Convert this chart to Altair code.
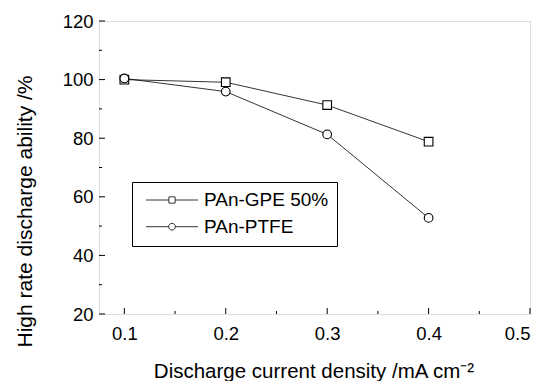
import altair as alt
import pandas as pd

# ---- data ----
density = [0.1, 0.2, 0.3, 0.4]
gpe = [100.0, 99.1, 91.3, 78.8]
ptfe = [100.4, 95.9, 81.3, 52.8]
series_names = ["PAn-GPE 50%", "PAn-PTFE"]

x_major = [0.1, 0.2, 0.3, 0.4, 0.5]
x_minor = [0.15, 0.25, 0.35, 0.45]
y_major = [20, 40, 60, 80, 100, 120]
y_minor = [30, 50, 70, 90, 110]

W, H = 431, 293
FONT = "Liberation Sans"

df = pd.DataFrame({
    "x": density * 2,
    "y": gpe + ptfe,
    "s": [series_names[0]] * 4 + [series_names[1]] * 4,
})

xscale = alt.Scale(domain=[0.075, 0.5], nice=False, zero=False)
yscale = alt.Scale(domain=[20, 120], nice=False, zero=False)

xaxis = alt.Axis(values=x_major, format=".1f", ticks=False, domain=False, grid=False,
                 labelFontSize=18.5, labelFont=FONT, labelColor="black",
                 labelBaseline="alphabetic", labelPadding=25, tickSize=0,
                 title="Discharge current density /mA cm\u207b\u00b2",
                 titleFontSize=20.5, titleFont=FONT, titleFontWeight="normal", titleColor="black",
                 titleBaseline="alphabetic", titleY=63, titleX=W / 2 - 1)
yaxis = alt.Axis(values=y_major, format="d", ticks=False, domain=False, grid=False,
                 labelFontSize=18.5, labelFont=FONT, labelColor="black",
                 labelPadding=6, tickSize=0,
                 title="High rate discharge ability /%",
                 titleFontSize=21, titleFont=FONT, titleFontWeight="normal", titleColor="black",
                 titleAngle=270, titleBaseline="alphabetic", titleAlign="center",
                 titleX=-68, titleY=190)

X = alt.X("x:Q", scale=xscale, axis=xaxis)
Y = alt.Y("y:Q", scale=yscale, axis=yaxis)

lines = alt.Chart(df).mark_line(color="black", strokeWidth=0.8).encode(
    x=X, y=Y, detail="s:N")

points = alt.Chart(df).mark_point(filled=False, fill="white", stroke="black",
                                  strokeWidth=1.1, size=75, opacity=1).encode(
    x=X, y=Y,
    shape=alt.Shape("s:N", scale=alt.Scale(domain=series_names, range=["square", "circle"]),
                    legend=None))

sq_path = "M-3.25,0H-0.39M0.39,0H3.25M-0.39,-0.39H0.39V0.39H-0.39Z"
ci_path = "M-3.25,0H-0.42M0.42,0H3.25M-0.42,0A0.42,0.42,0,1,1,0.42,0A0.42,0.42,0,1,1,-0.42,0Z"

legend_layer = alt.Chart(df).transform_filter("false").mark_point(
    filled=False, stroke="black", size=256).encode(
    x=X, y=Y,
    shape=alt.Shape("s:N", scale=alt.Scale(domain=series_names, range=[sq_path, ci_path]),
                    legend=alt.Legend(orient="none", legendX=33, legendY=161,
                                      title="\u00a0", titleOrient="bottom", titleFontSize=1,
                                      titlePadding=0,
                                      padding=8, strokeColor="black", fillColor="white",
                                      labelFontSize=19, labelFont=FONT, labelColor="black",
                                      labelOffset=22.5, labelLimit=400, rowPadding=6.7,
                                      clipHeight=20, symbolOffset=22.5,
                                      labelExpr="datum.label + '\u00a0\u00a0\u00a0'",
                                      symbolStrokeColor="black", symbolFillColor="white",
                                      symbolStrokeWidth=0.8, symbolSize=256,
                                      symbolOpacity=1)))

def tick_df(vals):
    return pd.DataFrame({"x": vals, "y": vals})

xt_major = alt.Chart(tick_df(x_major)).mark_rule(color="black", strokeWidth=1).encode(
    x=X, y=alt.value(H), y2=alt.value(H - 6))
xt_minor = alt.Chart(tick_df(x_minor)).mark_rule(color="black", strokeWidth=1).encode(
    x=X, y=alt.value(H), y2=alt.value(H - 3))
yt_major = alt.Chart(tick_df(y_major)).mark_rule(color="black", strokeWidth=1).encode(
    y=Y, x=alt.value(0), x2=alt.value(6))
yt_minor = alt.Chart(tick_df(y_minor)).mark_rule(color="black", strokeWidth=1).encode(
    y=Y, x=alt.value(0), x2=alt.value(3))

chart = alt.layer(xt_major, xt_minor, yt_major, yt_minor, lines, points, legend_layer).resolve_scale(
    shape="independent"
).properties(
    width=W, height=H,
    autosize=alt.AutoSizeParams(type="none"),
    padding={"left": 91, "top": 13, "right": 8, "bottom": 67},
).configure_view(
    stroke="black", strokeWidth=1.2
).configure(
    background="white", font=FONT
)

chart.save("out.html", embed_options={"renderer": "svg", "actions": False})
